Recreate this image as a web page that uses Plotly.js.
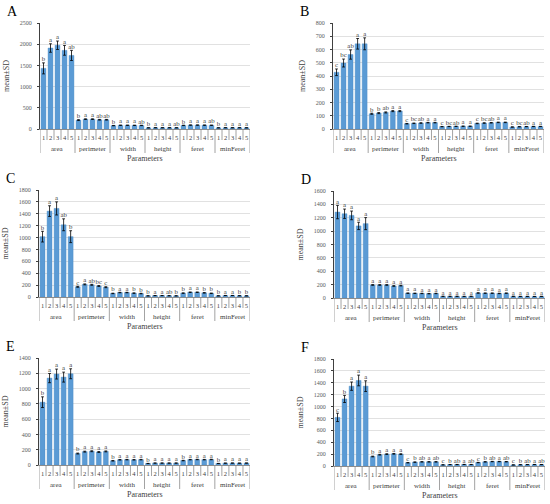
<!DOCTYPE html>
<html><head><meta charset="utf-8">
<script src="https://cdn.plot.ly/plotly-3.0.1.min.js"></script>
<style>html,body{margin:0;padding:0;background:#fff}#chart{width:550px;height:504px}</style>
</head><body><div id="chart"></div>
<script>
// ---- data ----
const groups = ["area","perimeter","width","height","feret","minFeret"];
const levels = ["1","2","3","4","5"];

// Panel A
const aVals = [1430,1910,1975,1855,1735, 210,232,232,218,218, 80,88,88,86,84, 28,30,30,30,29, 85,92,92,90,88, 28,30,30,30,29];
const aSD   = [130,100,100,115,120, 10,8,8,8,8, 4,4,4,4,4, 2,2,2,2,2, 4,4,4,4,4, 2,2,2,2,2];
const aLet  = ["b","a","a","a","ab", "b","a","a","ab","ab", "b","a","a","a","ab", "b","a","a","a","ab", "b","a","a","a","ab", "b","a","a","a","a"];
// Panel B
const bVals = [428,498,562,643,643, 115,120,125,135,135, 40,43,45,48,48, 18,19,20,21,21, 42,45,47,50,50, 15,17,18,19,19];
const bSD   = [25,30,35,40,45, 4,4,4,4,4, 2,2,2,2,2, 1,1,1,1,1, 2,2,2,2,2, 1,1,1,1,1];
const bLet  = ["c","bc","ab","a","a", "b","b","ab","a","a", "c","bc","ab","a","a", "c","bc","ab","a","a", "c","bc","ab","a","a", "c","bc","ab","a","a"];
// Panel C
const cVals = [1015,1445,1490,1215,1015, 172,212,205,185,165, 60,75,75,65,58, 20,24,24,22,20, 65,80,80,70,62, 20,25,25,22,20];
const cSD   = [90,90,110,100,100, 8,8,8,8,8, 4,4,4,4,4, 1,1,1,1,1, 4,4,4,4,4, 1,1,1,1,1];
const cLet  = ["b","a","a","ab","b", "c","a","ab","bc","c", "b","a","a","b","b", "b","a","a","ab","b", "b","a","a","b","b", "b","a","a","b","b"];
// Panel D
const dVals = [1285,1260,1235,1078,1112, 195,195,195,180,185, 72,70,68,65,68, 25,25,25,24,25, 75,72,72,68,72, 25,24,24,23,24];
const dSD   = [100,70,65,55,90, 5,5,5,5,5, 3,3,3,3,3, 1,1,1,1,1, 3,3,3,3,3, 1,1,1,1,1];
const dLet  = ["a","a","a","a","a", "a","a","a","a","a", "a","a","a","a","a", "a","a","a","a","a", "a","a","a","a","a", "a","a","a","a","a"];
// Panel E
const eVals = [822,1137,1190,1150,1194, 150,175,180,170,178, 55,68,70,68,70, 20,25,25,25,25, 58,70,72,70,72, 20,24,25,24,25];
const eSD   = [70,60,65,65,65, 6,6,6,6,6, 3,3,3,3,3, 1,1,1,1,1, 3,3,3,3,3, 1,1,1,1,1];
const eLet  = ["b","a","a","a","a", "b","a","a","a","a", "b","a","a","a","a", "b","a","a","a","a", "b","a","a","a","a", "b","a","a","a","a"];
// Panel F
const fVals = [818,1128,1343,1439,1343, 160,190,200,205,200, 55,65,70,70,70, 20,24,25,26,25, 58,70,75,75,72, 18,22,24,25,24];
const fSD   = [70,60,70,90,90, 6,6,6,6,6, 3,3,3,3,3, 1,1,1,1,1, 3,3,3,3,3, 1,1,1,1,1];
const fLet  = ["c","b","a","a","a", "b","a","a","a","a", "c","b","ab","a","ab", "c","b","ab","a","ab", "c","b","ab","a","ab", "c","b","ab","a","ab"];

const panelNames = ["A","B","C","D","E","F"];
const yMax  = [2500,800,1800,1600,1400,1800];
const yStep = [500,100,200,200,200,200];

// ---- layout helpers ----
const W = 550, H = 504;
// pixel boxes [left,right,top,bottom]
const boxes = [[40,250,23,129],[333,544,23,129],[39,250,190,297],[334,545,191,298],[39,250,358,465],[334,545,359,466]];
const serif = "Liberation Serif, Times New Roman, serif";
const panels = [[aVals,aSD,aLet],[bVals,bSD,bLet],[cVals,cSD,cLet],[dVals,dSD,dLet],[eVals,eSD,eLet],[fVals,fSD,fLet]];

const nCat = groups.length*levels.length;
const xIdx = Array.from({length:nCat},(_,i)=>i);
const tickText = xIdx.map(i=>levels[i%levels.length]);

const data = [], shapes = [], annotations = [];
const layout = {width:W,height:H,margin:{l:0,r:0,t:0,b:0},showlegend:false,
  paper_bgcolor:"#fff",plot_bgcolor:"#fff",font:{family:serif,color:"#404040"}};

panels.forEach((p,k)=>{
  const [vals,sd,lets] = p;
  const s = k===0?"":String(k+1);
  const [l,r,t,b] = boxes[k];
  const xd=[l/W,r/W], yd=[1-b/H,1-t/H];
  layout["xaxis"+s] = {domain:xd,anchor:"y"+s,range:[-0.5,nCat-0.5],tickvals:xIdx,ticktext:tickText,
    ticks:"",showgrid:false,zeroline:false,showline:true,linecolor:"#8c8c8c",linewidth:1,
    tickfont:{size:6.5,color:"#404040",family:serif},ticklabelstandoff:2,fixedrange:true};
  layout["yaxis"+s] = {domain:yd,anchor:"x"+s,range:[0,yMax[k]],dtick:yStep[k],tick0:0,
    showgrid:true,gridcolor:"#d9d9d9",gridwidth:0.8,zeroline:false,showline:true,linecolor:"#404040",linewidth:1,
    ticks:"outside",ticklen:2,tickcolor:"#404040",tickfont:{size:6,color:"#595959",family:serif},ticklabelstandoff:4,
    title:{text:"mean±SD",font:{size:8,family:serif,color:"#404040"},standoff:8},fixedrange:true};
  data.push({type:"bar",x:xIdx,y:vals,xaxis:"x"+s,yaxis:"y"+s,width:0.7,
    marker:{color:"#5b9bd5",line:{color:"#4a8ac4",width:0.4}},
    error_y:{type:"data",array:sd,visible:true,color:"#000",thickness:0.8,width:1.4},hoverinfo:"none"});
  data.push({type:"scatter",mode:"text",x:xIdx,y:vals.map((v,i)=>v+sd[i]),text:lets,
    textposition:"top center",textfont:{size:6.8,color:"#404040",family:serif},
    xaxis:"x"+s,yaxis:"y"+s,cliponaxis:false,hoverinfo:"none"});
  const y0 = yd[0];
  // separators below axis
  for(let j=0;j<=nCat;j++){
    const isGroup = j%levels.length===0;
    const len = isGroup?24:11;
    shapes.push({type:"line",xref:"x"+s,yref:"paper",x0:j-0.5,x1:j-0.5,y0:y0,y1:y0-len/H,
      line:{color:"#8c8c8c",width:0.8}});
  }
  groups.forEach((g,gi)=>{
    annotations.push({xref:"x"+s,yref:"paper",x:gi*levels.length+(levels.length-1)/2,y:y0-20/H,
      text:g,showarrow:false,font:{size:7,color:"#404040",family:serif},yanchor:"middle"});
  });
  annotations.push({xref:"x"+s+" domain",yref:"paper",x:0.5,y:y0-29/H,text:"Parameters",showarrow:false,
    font:{size:8,color:"#404040",family:serif},yanchor:"middle"});
  annotations.push({xref:"paper",yref:"paper",x:(l-35)/W,y:1-(t-12)/H,text:panelNames[k],showarrow:false,
    font:{size:14,color:"#000",family:serif},xanchor:"left",yanchor:"middle"});
});
layout.shapes = shapes;
layout.annotations = annotations;
Plotly.newPlot("chart",data,layout,{displayModeBar:false,staticPlot:true});
</script></body></html>
